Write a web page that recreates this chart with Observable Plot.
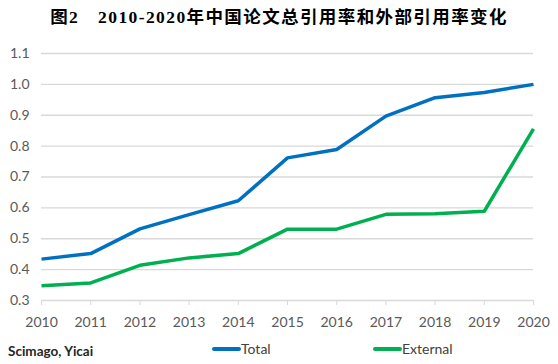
<!DOCTYPE html>
<html>
<head>
<meta charset="utf-8">
<script src="https://cdn.jsdelivr.net/npm/d3@7"></script>
<script src="https://cdn.jsdelivr.net/npm/@observablehq/plot@0.6"></script>
<style>
  html, body { margin: 0; padding: 0; background: #fff; }
  body { width: 558px; height: 364px; position: relative; overflow: hidden; }
  #title { position: absolute; left: 0; top: 0; width: 558px; height: 34px; line-height: 34px; text-align: center;
    font-family: "Liberation Serif", "Noto Sans CJK SC", serif; font-weight: bold; font-size: 17.5px; letter-spacing: 1.4px; color: #000; white-space: pre; }
  #chart { position: absolute; left: 0; top: 36px; }
  #caption { position: absolute; left: 8px; top: 343px; font-family: Lato, "Open Sans", sans-serif; font-weight: bold; font-size: 13.5px; color: #262626; }
  .leg { position: absolute; top: 340px; font-family: Lato, "Open Sans", sans-serif; font-size: 14px; color: #404040; display: flex; align-items: center; }
  .leg .sw { display: inline-block; width: 29px; height: 4px; border-radius: 2px; margin-right: 0px; }
</style>
</head>
<body>
<div id="title"></div>
<div id="chart"></div>
<div id="caption"></div>
<div id="legend"></div>
<script>
const titleText = "图2　2010-2020年中国论文总引用率和外部引用率变化";
const captionText = "Scimago, Yicai";
const years = [2010, 2011, 2012, 2013, 2014, 2015, 2016, 2017, 2018, 2019, 2020];
const total = [0.434, 0.452, 0.532, 0.578, 0.623, 0.762, 0.789, 0.897, 0.957, 0.974, 1.0];
const external = [0.348, 0.357, 0.414, 0.438, 0.452, 0.531, 0.531, 0.579, 0.581, 0.589, 0.856];
const yTicks = [0.3, 0.4, 0.5, 0.6, 0.7, 0.8, 0.9, 1.0, 1.1];
const seriesNames = ["Total", "External"];
const seriesColors = ["#0070C0", "#00B050"];

document.getElementById("title").textContent = titleText;
document.getElementById("caption").textContent = captionText;

const rows = [];
years.forEach((yr, i) => {
  rows.push({year: yr, value: total[i], series: seriesNames[0]});
});
years.forEach((yr, i) => {
  rows.push({year: yr, value: external[i], series: seriesNames[1]});
});

const chart = Plot.plot({
  width: 558,
  height: 295,
  marginLeft: 41,
  marginRight: 25,
  marginTop: 17,
  marginBottom: 31,
  style: {fontFamily: "Lato, 'Open Sans', sans-serif", fontSize: "14px", color: "#595959", background: "#fff"},
  x: {domain: [years[0], years[years.length - 1]]},
  y: {domain: [yTicks[0], yTicks[yTicks.length - 1]]},
  color: {domain: seriesNames, range: seriesColors},
  marks: [
    Plot.ruleY(yTicks, {stroke: "#d9d9d9", strokeWidth: 1.3}),
    Plot.axisX({ticks: years, tickFormat: d => String(d), tickSize: 5, tickPadding: 12, stroke: "#d9d9d9", strokeOpacity: 1, label: null, fill: "#595959"}),
    Plot.axisY({ticks: yTicks, tickFormat: d3.format(".1f"), tickSize: 0, tickPadding: 12, label: null, fill: "#595959"}),
    Plot.line(rows, {x: "year", y: "value", z: "series", stroke: "series", strokeWidth: 3.5, strokeLinejoin: "round", strokeLinecap: "butt"})
  ]
});
document.getElementById("chart").appendChild(chart);

const legend = document.getElementById("legend");
const legPos = [212, 373];
seriesNames.forEach((name, i) => {
  const item = document.createElement("div");
  item.className = "leg";
  item.style.left = legPos[i] + "px";
  const sw = document.createElement("span");
  sw.className = "sw";
  sw.style.background = seriesColors[i];
  const tx = document.createElement("span");
  tx.textContent = name;
  item.appendChild(sw);
  item.appendChild(tx);
  legend.appendChild(item);
});
</script>
</body>
</html>
